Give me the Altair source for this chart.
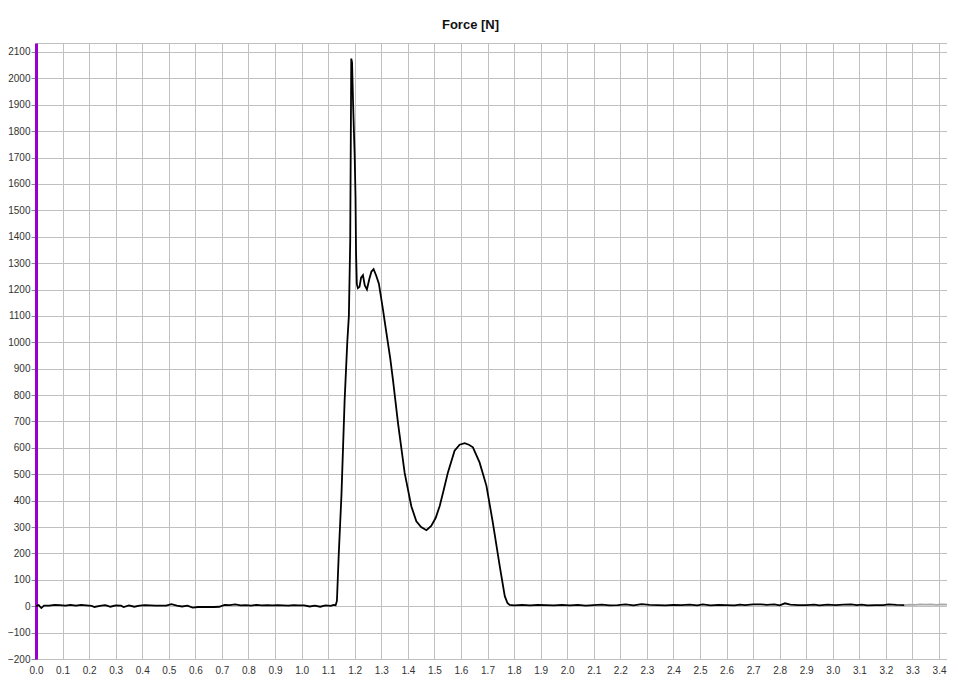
import altair as alt
import pandas as pd

# ---- data ----
time_main = [
    0.00, 0.01, 0.02, 0.03, 0.05, 0.07, 0.09, 0.11, 0.13, 0.15, 0.17, 0.19, 0.21, 0.22,
    0.24, 0.26, 0.27, 0.28, 0.30, 0.32, 0.33, 0.35, 0.37, 0.39, 0.41, 0.43, 0.45, 0.47,
    0.49, 0.51, 0.53, 0.55, 0.57, 0.59, 0.61, 0.63, 0.65, 0.67, 0.69, 0.71, 0.73, 0.75,
    0.77, 0.79, 0.81, 0.83, 0.85, 0.87, 0.89, 0.91, 0.93, 0.95, 0.97, 0.99, 1.01, 1.03,
    1.05, 1.07, 1.09, 1.11, 1.12, 1.128,
    1.133, 1.140, 1.150, 1.162, 1.172, 1.178, 1.183, 1.187, 1.190, 1.194, 1.200, 1.203,
    1.205, 1.208, 1.212, 1.218, 1.224, 1.231, 1.238, 1.246, 1.255, 1.263, 1.271, 1.280,
    1.291, 1.306, 1.313, 1.334, 1.344, 1.363, 1.388, 1.413, 1.432, 1.450, 1.470, 1.488,
    1.505, 1.520, 1.535, 1.551, 1.576, 1.595, 1.614, 1.630, 1.645, 1.670, 1.696, 1.720,
    1.746, 1.765, 1.775, 1.783,
    1.80, 1.83, 1.86, 1.89, 1.92, 1.95, 1.98, 2.01, 2.04, 2.07, 2.10, 2.13, 2.16, 2.19,
    2.22, 2.25, 2.28, 2.31, 2.34, 2.37, 2.40, 2.43, 2.46, 2.49, 2.51, 2.54, 2.57, 2.60,
    2.63, 2.65, 2.67, 2.70, 2.73, 2.75, 2.78, 2.80, 2.82, 2.84, 2.87, 2.90, 2.93, 2.95,
    2.98, 3.01, 3.04, 3.07, 3.09, 3.11, 3.13, 3.16, 3.19, 3.21, 3.24, 3.27,
]
force_main = [
    0, 4, -7, 2, 2, 5, 4, 2, 5, 2, 5, 3, 1, -3,
    1, 4, 1, -2, 3, 2, -3, 3, -2, 2, 4, 3, 2, 2,
    2, 8, 2, -1, 2, -5, -3, -3, -3, -3, -2, 5, 4, 7,
    3, 4, 2, 5, 3, 4, 3, 4, 3, 2, 4, 3, 3, -1,
    2, -2, 3, 1, 5, 4,
    20, 200, 420, 780, 1000, 1100, 1380, 2075, 2060, 1900, 1700, 1550,
    1340, 1220, 1205, 1210, 1245, 1254, 1215, 1200, 1240, 1268, 1277, 1255,
    1222, 1127, 1078, 937, 858, 694, 505, 379, 322, 300, 288, 304,
    335, 380, 440, 507, 589, 612, 618, 612, 602, 545, 456, 317,
    152, 38, 12, 5,
    3, 5, 3, 5, 4, 3, 5, 3, 5, 2, 4, 6, 3, 4,
    7, 3, 8, 5, 4, 3, 5, 4, 6, 3, 7, 3, 5, 4,
    3, 6, 4, 7, 7, 5, 7, 3, 11, 6, 4, 4, 6, 3,
    6, 4, 6, 7, 4, 6, 3, 4, 4, 7, 5, 4,
]
time_tail = [3.27, 3.29, 3.31, 3.33, 3.35, 3.37, 3.39, 3.41, 3.43]
force_tail = [4, 6, 5, 7, 6, 7, 5, 7, 6]

x_ticks = [0.0, 0.1, 0.2, 0.3, 0.4, 0.5, 0.6, 0.7, 0.8, 0.9, 1.0, 1.1, 1.2, 1.3, 1.4,
           1.5, 1.6, 1.7, 1.8, 1.9, 2.0, 2.1, 2.2, 2.3, 2.4, 2.5, 2.6, 2.7, 2.8, 2.9,
           3.0, 3.1, 3.2, 3.3, 3.4]
y_ticks = [-200, -100, 0, 100, 200, 300, 400, 500, 600, 700, 800, 900, 1000, 1100,
           1200, 1300, 1400, 1500, 1600, 1700, 1800, 1900, 2000, 2100]

df = pd.concat([
    pd.DataFrame({"t": time_main, "f": force_main, "seg": "main"}),
    pd.DataFrame({"t": time_tail, "f": force_tail, "seg": "tail"}),
])

FONT = "Liberation Sans"

chart = alt.Chart(df).mark_line(clip=True, strokeWidth=1.8).encode(
    x=alt.X("t:Q",
            scale=alt.Scale(domain=[0, 3.43], nice=False, zero=False),
            axis=alt.Axis(values=x_ticks, format=".1f", title="Time(s)",
                          ticks=False, domain=False, labelPadding=6,
                          labelFont=FONT, labelFontSize=10, labelColor="#333333",
                          titleFont=FONT, titleFontSize=11, titleFontWeight="normal",
                          titleColor="#222222", titleX=433, titleY=19,
                          titleBaseline="top", titleAlign="center",
                          gridColor="#c0c0c0", gridWidth=1, labelFlush=False)),
    y=alt.Y("f:Q",
            scale=alt.Scale(domain=[-200, 2134], nice=False, zero=False),
            axis=alt.Axis(values=y_ticks, format="d", title=None, tickSize=5,
                          tickColor="#888888", labelPadding=1, labelFont=FONT,
                          labelFontSize=10, labelColor="#333333",
                          domainColor="#9900cc", domainWidth=3,
                          gridColor="#c0c0c0", gridWidth=1, labelFlush=False)),
    color=alt.Color("seg:N", scale=alt.Scale(domain=["main", "tail"],
                                             range=["#000000", "#a8a8a8"]),
                    legend=None),
).properties(
    width=911,
    height=616,
    padding={"left": 28, "top": 35, "right": 0, "bottom": 18},
    autosize=alt.AutoSizeParams(type="none"),
    title=alt.TitleParams(text="Force [N]", font=FONT, fontSize=13, fontWeight="bold",
                          color="#111111", anchor="middle", dx=-21, offset=-2,
                          baseline="bottom"),
).configure_view(stroke="#c0c0c0")

chart.save("out.html", embed_options={"renderer": "svg", "actions": False})
